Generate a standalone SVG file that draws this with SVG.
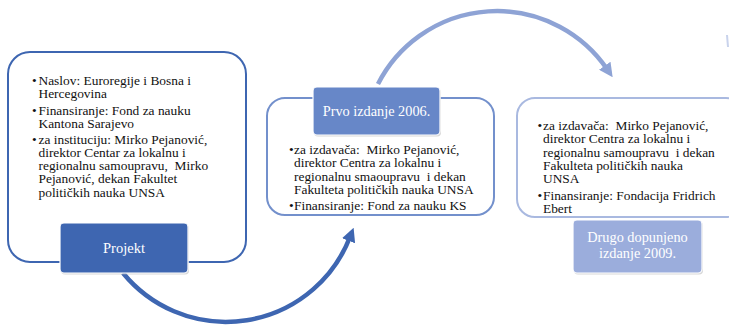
<svg xmlns="http://www.w3.org/2000/svg" width="729" height="327" viewBox="0 0 729 327">
<style>
.txt{font-family:"Liberation Serif","Times New Roman",serif;font-size:13.4px;fill:#111}
.lbl{font-family:"Liberation Serif","Times New Roman",serif;font-size:14.3px;fill:#fff;text-anchor:middle}
.box{fill:#fff;stroke-width:2}
.tag{stroke:#fff;stroke-width:1.2}
.shadow{fill:#b8b8b8;opacity:0.55}
.arc{fill:none;stroke-width:4.5}
</style>
<defs>
<marker id="ah1" markerUnits="userSpaceOnUse" viewBox="0 0 14 14" refX="4" refY="7" markerWidth="14" markerHeight="14" orient="auto">
<path d="M0,0 L14,7 L0,14 Z" fill="#3E66B1"/>
</marker>
<marker id="ah2" markerUnits="userSpaceOnUse" viewBox="0 0 14 14" refX="4" refY="7" markerWidth="14" markerHeight="14" orient="auto">
<path d="M0,0 L14,7 L0,14 Z" fill="#8EA3D5"/>
</marker>
</defs>
<g id="connectors">
<path class="arc" stroke="#3E66B1" d="M123,273 A133,133 0 0 0 350,237" marker-end="url(#ah1)"/>
<path class="arc" stroke="#8EA3D5" d="M378,84 A133.5,133.5 0 0 1 607,69" marker-end="url(#ah2)"/>
<path d="M727,35 L728,47" stroke="#C9D3EC" stroke-width="2" fill="none"/>
</g>
<g id="box1">
<rect class="box" x="8" y="52" width="238" height="210" rx="22" stroke="#3E66B1"/>
<text class="txt"><tspan x="32" y="85">•</tspan><tspan x="38.5" y="85">Naslov: Euroregije i Bosna i</tspan><tspan x="38.5" y="98">Hercegovina</tspan></text>
<text class="txt"><tspan x="32" y="114.5">•</tspan><tspan x="38.5" y="114.5">Finansiranje: Fond za nauku</tspan><tspan x="38.5" y="127.5">Kantona Sarajevo</tspan></text>
<text class="txt"><tspan x="32" y="143.5">•</tspan><tspan x="38.5" y="143.5">za instituciju: Mirko Pejanović,</tspan><tspan x="38.5" y="156.8">direktor Centar za lokalnu i</tspan><tspan x="38.5" y="170.1">regionalnu samoupravu,&#160; Mirko</tspan><tspan x="38.5" y="183.4">Pejanović, dekan Fakultet</tspan><tspan x="38.5" y="196.7">političkih nauka UNSA</tspan></text>
</g>
<g id="projekt">
<rect class="shadow" x="61" y="224.5" width="128" height="50" rx="4"/>
<rect class="tag" x="60" y="223" width="128" height="50" rx="4" fill="#3E66B1"/>
<text class="lbl" x="124" y="253" style="font-size:14.5px">Projekt</text>
</g>
<g id="box2">
<rect class="box" x="267" y="98" width="227" height="117" rx="18" stroke="#7390CC"/>
<text class="txt"><tspan x="289" y="154">•</tspan><tspan x="294" y="154">za izdavača:&#160; Mirko Pejanović,</tspan><tspan x="294" y="167.3">direktor Centra za lokalnu i</tspan><tspan x="294" y="180.6">regionalnu smaoupravu&#160; i dekan</tspan><tspan x="294" y="193.9">Fakulteta političkih nauka UNSA</tspan></text>
<text class="txt"><tspan x="289" y="210">•</tspan><tspan x="294" y="210">Finansiranje: Fond za nauku KS</tspan></text>
</g>
<g id="prvo">
<rect class="shadow" x="314" y="88.5" width="127" height="48" rx="4"/>
<rect class="tag" x="313" y="87" width="127" height="48" rx="4" fill="#6787C8"/>
<text class="lbl" x="376.5" y="116">Prvo izdanje 2006.</text>
</g>
<g id="box3">
<rect class="box" x="517" y="98" width="227" height="119" rx="18" stroke="#A9B9E0"/>
<text class="txt"><tspan x="537.5" y="130">•</tspan><tspan x="543" y="130">za izdavača:&#160; Mirko Pejanović,</tspan><tspan x="543" y="143.3">direktor Centra za lokalnu i</tspan><tspan x="543" y="156.6">regionalnu samoupravu&#160; i dekan</tspan><tspan x="543" y="169.9">Fakulteta političkih nauka</tspan><tspan x="543" y="183.2">UNSA</tspan></text>
<text class="txt"><tspan x="537.5" y="200">•</tspan><tspan x="543" y="200">Finansiranje: Fondacija Fridrich</tspan><tspan x="543" y="213.3">Ebert</tspan></text>
</g>
<g id="drugo">
<rect class="shadow" x="574" y="221.5" width="129" height="53" rx="4"/>
<rect class="tag" x="573" y="220" width="129" height="53" rx="4" fill="#9BADDC"/>
<text class="lbl"><tspan x="637.5" y="241.5">Drugo dopunjeno</tspan><tspan x="637.5" y="258">izdanje 2009.</tspan></text>
</g>
</svg>
